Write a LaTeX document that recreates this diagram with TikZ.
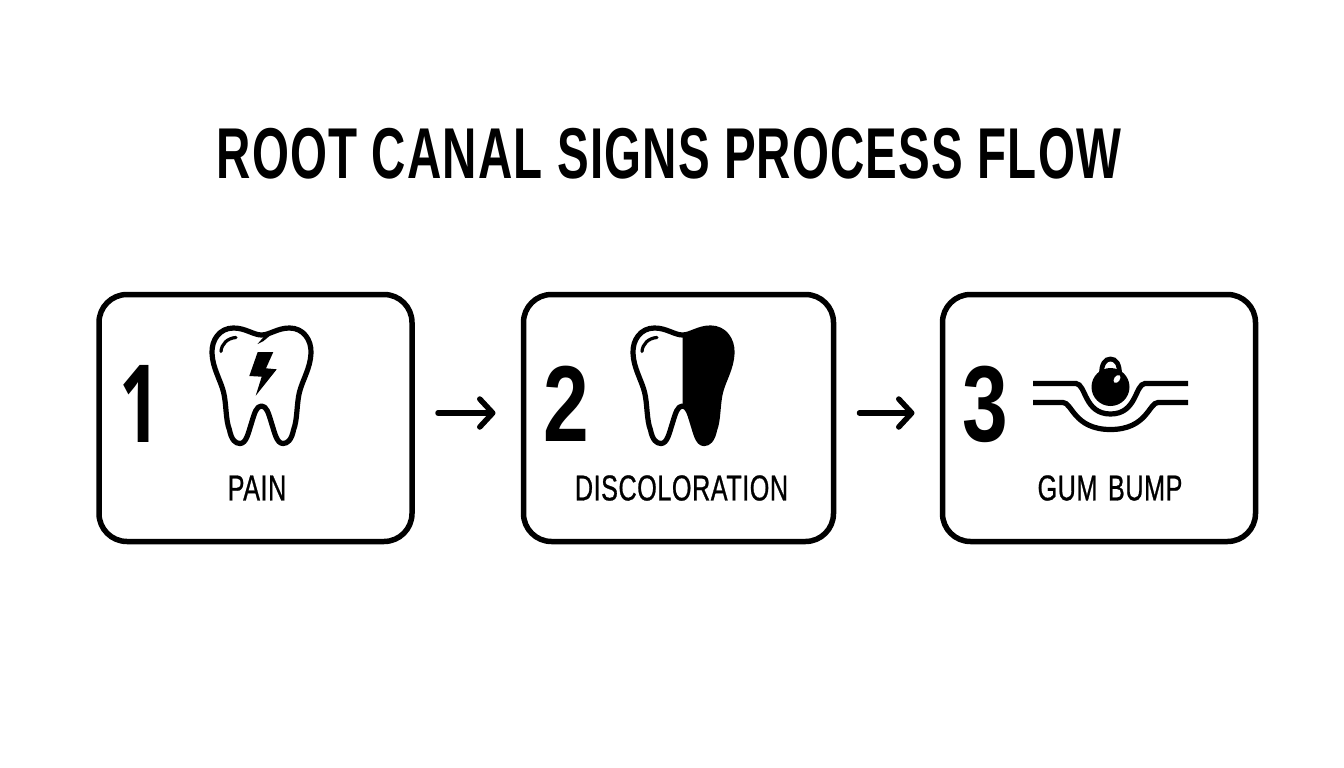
\documentclass[tikz,border=0pt]{standalone}
\usepackage{fontspec}
\usetikzlibrary{arrows.meta}
\setmainfont{Liberation Sans}
\newfontfamily\titlefont[FakeStretch=0.66,LetterSpace=1.6]{Liberation Sans}
\newfontfamily\numfont[FakeStretch=0.76]{Liberation Sans}
\newfontfamily\onefont[FakeStretch=0.66]{Open Sans}
\newfontfamily\signfont[FakeStretch=0.7,LetterSpace=1.5,FakeBold=0.7,WordSpace=1.4]{Liberation Sans}

\newcommand{\toothoutline}{(0,-45)
	.. controls (-8,-45) and (-16,-52) .. (-28,-52)
	.. controls (-42,-52) and (-50,-40) .. (-49.5,-27)
	.. controls (-49,-12) and (-41,0) .. (-38,12)
	.. controls (-35,24) and (-36,40) .. (-32,50)
	.. controls (-30,60) and (-26,63.5) .. (-21.5,63.5)
	.. controls (-15,63.5) and (-13,52) .. (-10,43)
	.. controls (-7,33) and (-5,26) .. (0,26)
	.. controls (5,26) and (7,33) .. (10,43)
	.. controls (13,52) and (15,63.5) .. (21.5,63.5)
	.. controls (26,63.5) and (30,60) .. (32,50)
	.. controls (36,40) and (35,24) .. (38,12)
	.. controls (41,0) and (49,-12) .. (49.5,-27)
	.. controls (50,-40) and (42,-52) .. (28,-52)
	.. controls (16,-52) and (8,-45) .. (0,-45) -- cycle}
\newcommand{\toothshine}{(-40.5,-28.5) .. controls (-40,-36) and (-34,-42) .. (-25.5,-42.5)}

\tikzset{
	signbox/.style={draw, line width=5.5, rounded corners=28, minimum height=247, outer sep=0},
	flowarrow/.style={line width=5.5, line cap=round, -{Straight Barb[length=13,width=28,round]}, shorten <=26, shorten >=28},
	toothline/.style={line width=5.2, line join=round},
	shineline/.style={line width=3.2, line cap=round},
	gumline/.style={line width=5.2},
	numtext/.style={font=\numfont\bfseries\fontsize{108}{108}\selectfont, inner sep=0},
	signtext/.style={font=\signfont\fontsize{36}{36}\selectfont, inner sep=0},
}

\begin{document}
\begin{tikzpicture}[x=1pt, y=-1pt]
	\useasboundingbox (0,0) rectangle (1344,768);

	% Draw Title
	\node[font=\titlefont\bfseries\fontsize{72}{72}\selectfont, inner sep=0] (title) at (669,154) {ROOT CANAL SIGNS PROCESS FLOW};

	% Draw Boxes
	\node[signbox, minimum width=313] (painbox) at (255.5,418) {};
	\node[signbox, minimum width=310] (colorbox) at (678.5,418) {};
	\node[signbox, minimum width=313] (bumpbox) at (1099,418) {};

	% Draw Arrows
	\draw[flowarrow] ([yshift=5]painbox.east) -- ([yshift=5]colorbox.west);
	\draw[flowarrow] ([yshift=5]colorbox.east) -- ([yshift=5]bumpbox.west);

	% Label numbers
	\node[numtext, font=\onefont\bfseries\fontsize{108}{108}\selectfont] (numone) at (139.5,404) {1};
	\node[numtext] (numtwo) at (566,404) {2};
	\node[numtext] (numthree) at (985,404) {3};

	% Label signs
	\node[signtext] (pain) at (257,488) {PAIN};
	\node[signtext] (discolor) at (681.5,488) {DISCOLORATION};
	\node[signtext] (bump) at (1110,488) {GUM BUMP};

	% Draw Tooth with bolt
	\begin{scope}[shift={(261.5,380)}]
		\draw[toothline] \toothoutline;
		\draw[shineline] \toothshine;
		\fill (-4,-36) -- (3,-44) -- (8,-44) -- (2,-39) -- cycle;
		\fill (-3.8,-28) -- (11.8,-28) -- (4.5,-11.7) -- (15.2,-10.7) -- (-5.8,15.7) -- (0.2,-3.3) -- (-12.2,-4) -- cycle;
	\end{scope}

	% Draw half dark Tooth
	\begin{scope}[shift={(682.5,380)}]
		\draw[toothline] \toothoutline;
		\draw[shineline] \toothshine;
		\fill (0,-45)
			.. controls (8,-45) and (16,-52) .. (28,-52)
			.. controls (42,-52) and (50,-40) .. (49.5,-27)
			.. controls (49,-12) and (41,0) .. (38,12)
			.. controls (35,24) and (36,40) .. (32,50)
			.. controls (30,60) and (26,63.5) .. (21.5,63.5)
			.. controls (15,63.5) and (13,52) .. (10,43)
			.. controls (7,33) and (5,26) .. (0,26) -- cycle;
	\end{scope}

	% Draw Gum with bump
	\draw[gumline] (1033,383.5) -- (1076,383.5)
		.. controls (1086,384) and (1084,414) .. (1110.5,414)
		.. controls (1137,414) and (1135,384) .. (1145,383.5) -- (1188,383.5);
	\draw[gumline] (1033,402.5) -- (1063,402.5)
		.. controls (1072,402.5) and (1074,429.5) .. (1110.5,429.5)
		.. controls (1147,429.5) and (1149,402.5) .. (1158,402.5) -- (1188,402.5);
	\fill (1110.5,387) circle (19);
	\draw[line width=4.8] (1101.5,374) .. controls (1101.5,364) and (1105,359) .. (1110.5,359)
		.. controls (1116,359) and (1119.5,364) .. (1119.5,374);
	\fill[white, rotate around={-35:(1117,379)}] (1117,379) ellipse (2.8 and 4.5);
\end{tikzpicture}
\end{document}
